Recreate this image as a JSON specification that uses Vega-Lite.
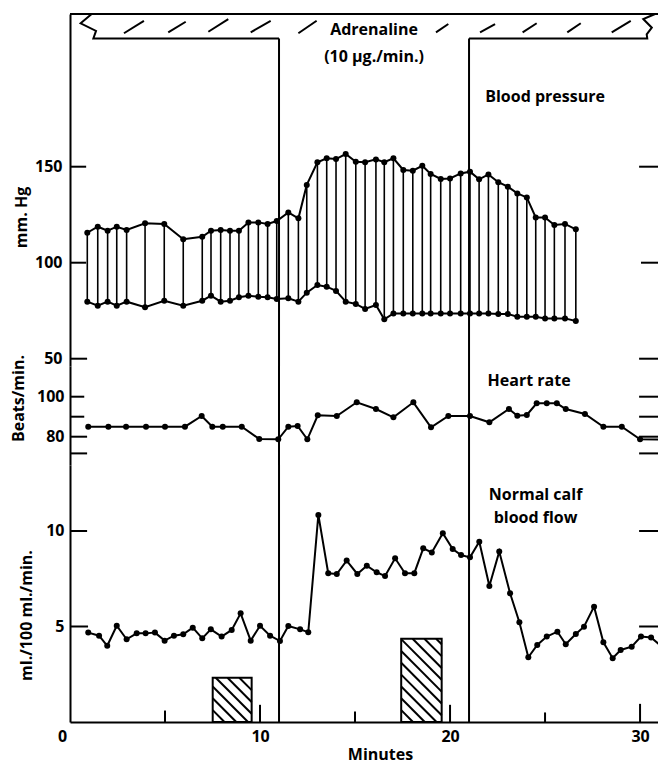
{
  "$schema": "https://vega.github.io/schema/vega-lite/v6.json",
  "padding": {"left": 10, "top": 10, "right": 0, "bottom": 4},
  "background": "white",
  "spacing": 0,
  "bounds": "flush",
  "config": {
    "view": {"stroke": null},
    "font": "Open Sans",
    "axis": {
      "grid": false, "ticks": false, "domainColor": "black", "domainWidth": 2, "labelFlush": false,
      "labelFont": "Open Sans", "labelFontWeight": "bold", "labelFontSize": 16, "labelColor": "black",
      "titleFont": "Open Sans", "titleFontWeight": "bold", "titleFontSize": 16, "titleColor": "black"
    },
    "text": {"font": "Open Sans", "fontWeight": "bold", "fontSize": 16, "color": "black"}
  },
  "vconcat": [
    {
      "width": 590, "height": 352,
      "layer": [
        {
          "data": {"values": [
            {"seg": "top", "o": 0, "t": 0, "v": 229.53},
            {"seg": "top", "o": 1, "t": 31.05, "v": 229.53},
            {"seg": "left", "o": 0, "t": 1.14, "v": 229.53},
            {"seg": "left", "o": 1, "t": 0.56, "v": 224.7},
            {"seg": "left", "o": 2, "t": 1.37, "v": 220.7},
            {"seg": "left", "o": 3, "t": 1.23, "v": 216.77},
            {"seg": "left", "o": 4, "t": 11, "v": 216.77},
            {"seg": "right", "o": 0, "t": 21, "v": 216.77},
            {"seg": "right", "o": 1, "t": 30.38, "v": 216.77},
            {"seg": "right", "o": 2, "t": 30.35, "v": 218.96},
            {"seg": "right", "o": 3, "t": 30.62, "v": 222.4},
            {"seg": "right", "o": 4, "t": 30.17, "v": 226.9},
            {"seg": "right", "o": 5, "t": 30.79, "v": 229.53}
          ]},
          "mark": {"type": "line", "color": "black", "strokeWidth": 2},
          "encoding": {
            "x": {"field": "t", "type": "quantitative", "scale": {"domain": [0, 31.05], "nice": false, "zero": false}, "axis": null},
            "y": {"field": "v", "type": "quantitative", "scale": {"domain": [46.2, 229.53], "nice": false, "zero": false},
              "axis": {"title": "mm. Hg", "values": [50, 100, 150], "labelPadding": 8, "titleAngle": 270, "titleX": -49, "titleY": 203, "titleAlign": "center", "titleBaseline": "middle"}},
            "detail": {"field": "seg"},
            "order": {"field": "o"}
          }
        },
        {
          "data": {"values": [
            {"t": 2.84, "t2": 3.89, "v": 219.5, "v2": 226.0},
            {"t": 5.17, "t2": 6.09, "v": 220.0, "v2": 225.5},
            {"t": 7.28, "t2": 8.33, "v": 220.3, "v2": 226.9},
            {"t": 9.51, "t2": 10.56, "v": 220.0, "v2": 226.0},
            {"t": 12.02, "t2": 12.98, "v": 219.5, "v2": 226.0},
            {"t": 19.26, "t2": 19.91, "v": 220.0, "v2": 224.3},
            {"t": 21.58, "t2": 22.37, "v": 220.0, "v2": 224.3},
            {"t": 23.82, "t2": 24.56, "v": 220.0, "v2": 224.7},
            {"t": 26.17, "t2": 26.88, "v": 220.0, "v2": 224.7},
            {"t": 28.51, "t2": 29.51, "v": 220.0, "v2": 226.0},
            {"t": 11, "t2": 11, "v": 216.77, "v2": 46.2},
            {"t": 21, "t2": 21, "v": 216.77, "v2": 46.2},
            {"t": 0, "t2": 0.85, "v": 150, "v2": 150},
            {"t": 0, "t2": 0.85, "v": 100, "v2": 100},
            {"t": 0, "t2": 0.9, "v": 50, "v2": 50},
            {"t": 29.95, "t2": 31.05, "v": 150, "v2": 150},
            {"t": 30.05, "t2": 31.05, "v": 100, "v2": 100},
            {"t": 29.95, "t2": 31.05, "v": 50, "v2": 50}
          ]},
          "mark": {"type": "rule", "color": "black", "strokeWidth": 2},
          "encoding": {
            "x": {"field": "t", "type": "quantitative"},
            "x2": {"field": "t2"},
            "y": {"field": "v", "type": "quantitative"},
            "y2": {"field": "v2"}
          }
        },
        {
          "data": {"name": "bp", "values": [
            {"t": 0.91, "sys": 115.6, "dia": 79.7},
            {"t": 1.46, "sys": 118.75, "dia": 77.6},
            {"t": 1.98, "sys": 116.7, "dia": 79.7},
            {"t": 2.46, "sys": 118.75, "dia": 77.6},
            {"t": 2.98, "sys": 117.0, "dia": 79.7},
            {"t": 3.95, "sys": 120.5, "dia": 76.8},
            {"t": 4.96, "sys": 120.2, "dia": 80.2},
            {"t": 5.96, "sys": 112.2, "dia": 77.6},
            {"t": 6.96, "sys": 113.5, "dia": 80.2},
            {"t": 7.42, "sys": 116.7, "dia": 82.8},
            {"t": 7.93, "sys": 117.0, "dia": 79.7},
            {"t": 8.42, "sys": 116.7, "dia": 80.2},
            {"t": 8.89, "sys": 116.7, "dia": 82.0},
            {"t": 9.39, "sys": 121.0, "dia": 82.8},
            {"t": 9.91, "sys": 121.0, "dia": 82.3},
            {"t": 10.4, "sys": 120.2, "dia": 82.0},
            {"t": 10.88, "sys": 121.7, "dia": 81.1},
            {"t": 11.49, "sys": 126.2, "dia": 81.5},
            {"t": 12.02, "sys": 123.1, "dia": 79.7},
            {"t": 12.46, "sys": 140.5, "dia": 84.4},
            {"t": 13.02, "sys": 152.3, "dia": 88.4},
            {"t": 13.51, "sys": 154.4, "dia": 87.5},
            {"t": 14.0, "sys": 154.0, "dia": 85.3},
            {"t": 14.51, "sys": 156.6, "dia": 79.7},
            {"t": 15.04, "sys": 152.6, "dia": 78.5},
            {"t": 15.53, "sys": 152.3, "dia": 75.9},
            {"t": 16.1, "sys": 153.8, "dia": 78.0},
            {"t": 16.54, "sys": 152.3, "dia": 70.5},
            {"t": 17.02, "sys": 154.4, "dia": 73.6},
            {"t": 17.54, "sys": 148.3, "dia": 73.6},
            {"t": 18.04, "sys": 147.9, "dia": 73.6},
            {"t": 18.54, "sys": 150.5, "dia": 73.6},
            {"t": 18.98, "sys": 146.2, "dia": 73.6},
            {"t": 19.51, "sys": 143.6, "dia": 73.6},
            {"t": 20.0, "sys": 143.9, "dia": 73.6},
            {"t": 20.56, "sys": 146.5, "dia": 73.6},
            {"t": 21.05, "sys": 147.4, "dia": 73.6},
            {"t": 21.53, "sys": 143.4, "dia": 73.6},
            {"t": 22.02, "sys": 146.0, "dia": 73.6},
            {"t": 22.54, "sys": 141.9, "dia": 73.3},
            {"t": 23.04, "sys": 139.6, "dia": 73.3},
            {"t": 23.54, "sys": 136.1, "dia": 71.9},
            {"t": 24.04, "sys": 134.0, "dia": 71.9},
            {"t": 24.51, "sys": 123.6, "dia": 71.9},
            {"t": 25.0, "sys": 123.6, "dia": 71.0},
            {"t": 25.49, "sys": 119.6, "dia": 71.0},
            {"t": 26.05, "sys": 120.2, "dia": 71.0},
            {"t": 26.62, "sys": 117.4, "dia": 69.6}
          ]},
          "mark": {"type": "rule", "color": "black", "strokeWidth": 1.6},
          "encoding": {
            "x": {"field": "t", "type": "quantitative"},
            "y": {"field": "sys", "type": "quantitative"},
            "y2": {"field": "dia"}
          }
        },
        {
          "data": {"name": "bp"},
          "mark": {"type": "line", "color": "black", "strokeWidth": 2, "point": {"filled": true, "color": "black", "size": 36}},
          "encoding": {
            "x": {"field": "t", "type": "quantitative"},
            "y": {"field": "sys", "type": "quantitative"}
          }
        },
        {
          "data": {"name": "bp"},
          "mark": {"type": "line", "color": "black", "strokeWidth": 2, "point": {"filled": true, "color": "black", "size": 36}},
          "encoding": {
            "x": {"field": "t", "type": "quantitative"},
            "y": {"field": "dia", "type": "quantitative"}
          }
        },
        {
          "data": {"values": [
            {"t": 16.0, "v": 221.2, "label": "Adrenaline"},
            {"t": 16.0, "v": 207.1, "label": "(10 µg./min.)"},
            {"t": 25.0, "v": 186.3, "label": "Blood pressure"}
          ]},
          "mark": {"type": "text", "align": "center", "baseline": "middle"},
          "encoding": {
            "x": {"field": "t", "type": "quantitative"},
            "y": {"field": "v", "type": "quantitative"},
            "text": {"field": "label"}
          }
        }
      ]
    },
    {
      "width": 590, "height": 99,
      "layer": [
        {
          "data": {"values": [
            {"t": 11, "t2": 11, "v": 115.35, "v2": 65.85},
            {"t": 21, "t2": 21, "v": 115.35, "v2": 65.85},
            {"t": 0, "t2": 0.75, "v": 100, "v2": 100},
            {"t": 0, "t2": 0.75, "v": 90, "v2": 90},
            {"t": 0, "t2": 0.9, "v": 80, "v2": 80},
            {"t": 0, "t2": 0.9, "v": 71.65, "v2": 71.65},
            {"t": 29.95, "t2": 31.05, "v": 100, "v2": 100},
            {"t": 29.95, "t2": 31.05, "v": 90, "v2": 90},
            {"t": 29.95, "t2": 31.05, "v": 80, "v2": 80},
            {"t": 29.95, "t2": 31.05, "v": 71.65, "v2": 71.65}
          ]},
          "mark": {"type": "rule", "color": "black", "strokeWidth": 2},
          "encoding": {
            "x": {"field": "t", "type": "quantitative", "scale": {"domain": [0, 31.05], "nice": false, "zero": false}, "axis": null},
            "x2": {"field": "t2"},
            "y": {"field": "v", "type": "quantitative", "scale": {"domain": [65.85, 115.35], "nice": false, "zero": false},
              "axis": {"title": "Beats/min.", "values": [80, 100], "labelPadding": 6, "titleAngle": 270, "titleX": -52, "titleY": 32, "titleAlign": "center", "titleBaseline": "middle"}},
            "y2": {"field": "v2"}
          }
        },
        {
          "data": {"values": [
            {"t": 0.96, "bpm": 85.0}, {"t": 2.02, "bpm": 85.0}, {"t": 2.95, "bpm": 85.0},
            {"t": 4.0, "bpm": 85.0}, {"t": 5.0, "bpm": 85.0}, {"t": 6.05, "bpm": 85.0},
            {"t": 6.93, "bpm": 90.35}, {"t": 7.49, "bpm": 85.0}, {"t": 8.04, "bpm": 85.0},
            {"t": 9.04, "bpm": 85.0}, {"t": 9.96, "bpm": 78.85}, {"t": 10.96, "bpm": 78.7},
            {"t": 11.49, "bpm": 85.0}, {"t": 11.98, "bpm": 85.35}, {"t": 12.49, "bpm": 78.7},
            {"t": 13.04, "bpm": 90.7}, {"t": 14.04, "bpm": 90.35}, {"t": 15.09, "bpm": 97.2},
            {"t": 16.1, "bpm": 93.85}, {"t": 17.02, "bpm": 89.7}, {"t": 18.07, "bpm": 97.2},
            {"t": 19.0, "bpm": 84.7}, {"t": 19.91, "bpm": 90.35}, {"t": 21.05, "bpm": 90.35},
            {"t": 22.07, "bpm": 87.2}, {"t": 23.1, "bpm": 93.85}, {"t": 23.54, "bpm": 90.5},
            {"t": 24.04, "bpm": 90.85}, {"t": 24.56, "bpm": 96.7}, {"t": 25.09, "bpm": 96.7},
            {"t": 25.62, "bpm": 96.7}, {"t": 26.09, "bpm": 93.85}, {"t": 27.1, "bpm": 91.35},
            {"t": 28.07, "bpm": 85.0}, {"t": 29.04, "bpm": 85.0}, {"t": 30.0, "bpm": 78.7},
            {"t": 31.6, "bpm": 78.6}
          ]},
          "mark": {"type": "line", "color": "black", "strokeWidth": 2, "clip": true, "point": {"filled": true, "color": "black", "size": 36, "clip": true}},
          "encoding": {
            "x": {"field": "t", "type": "quantitative"},
            "y": {"field": "bpm", "type": "quantitative"}
          }
        },
        {
          "data": {"values": [{"t": 24.16, "v": 107.85, "label": "Heart rate"}]},
          "mark": {"type": "text", "align": "center", "baseline": "middle"},
          "encoding": {
            "x": {"field": "t", "type": "quantitative"},
            "y": {"field": "v", "type": "quantitative"},
            "text": {"field": "label"}
          }
        }
      ]
    },
    {
      "width": 590, "height": 257,
      "layer": [
        {
          "data": {"values": [
            {"t": 7.51, "t2": 9.56, "v": 0, "v2": 2.32},
            {"t": 17.43, "t2": 19.56, "v": 0, "v2": 4.36}
          ]},
          "mark": {"type": "rect", "fill": "white", "stroke": "black", "strokeWidth": 2},
          "encoding": {
            "x": {"field": "t", "type": "quantitative", "scale": {"domain": [0, 31.05], "nice": false, "zero": false},
              "axis": {"title": "Minutes", "values": [0, 10, 20, 30], "labelPadding": 6, "titleX": 310, "titleY": 32, "titleBaseline": "middle",
                "labelOffset": {"condition": {"test": "datum.value === 0", "value": -8}, "value": 0}}},
            "x2": {"field": "t2"},
            "y": {"field": "v", "type": "quantitative", "scale": {"domain": [0, 13.455], "nice": false, "zero": false},
              "axis": {"title": "ml./100 ml./min.", "values": [5, 10], "labelPadding": 6, "titleAngle": 270, "titleX": -44, "titleY": 150, "titleAlign": "center", "titleBaseline": "middle"}},
            "y2": {"field": "v2"}
          }
        },
        {
          "data": {"values": [
            {"t": 11, "t2": 11, "v": 13.455, "v2": 0},
            {"t": 21, "t2": 21, "v": 13.455, "v2": 0},
            {"t": 0, "t2": 0.9, "v": 10, "v2": 10},
            {"t": 0, "t2": 0.95, "v": 5, "v2": 5},
            {"t": 29.95, "t2": 31.05, "v": 10, "v2": 10},
            {"t": 29.95, "t2": 31.05, "v": 5, "v2": 5},
            {"t": 5, "t2": 5, "v": 0, "v2": 0.6},
            {"t": 10, "t2": 10, "v": 0, "v2": 0.9},
            {"t": 15, "t2": 15, "v": 0, "v2": 0.55},
            {"t": 20, "t2": 20, "v": 0, "v2": 0.9},
            {"t": 25, "t2": 25, "v": 0, "v2": 0.5},
            {"t": 30, "t2": 30, "v": 0, "v2": 0.95},
            {"t": 7.51, "t2": 8.13, "v": 0.62, "v2": 0},
            {"t": 7.51, "t2": 8.75, "v": 1.24, "v2": 0},
            {"t": 7.51, "t2": 9.37, "v": 1.86, "v2": 0},
            {"t": 7.67, "t2": 9.56, "v": 2.32, "v2": 0.43},
            {"t": 8.29, "t2": 9.56, "v": 2.32, "v2": 1.05},
            {"t": 8.91, "t2": 9.56, "v": 2.32, "v2": 1.67},
            {"t": 17.43, "t2": 18.05, "v": 0.62, "v2": 0},
            {"t": 17.43, "t2": 18.67, "v": 1.24, "v2": 0},
            {"t": 17.43, "t2": 19.29, "v": 1.86, "v2": 0},
            {"t": 17.43, "t2": 19.56, "v": 2.48, "v2": 0.35},
            {"t": 17.43, "t2": 19.56, "v": 3.10, "v2": 0.97},
            {"t": 17.43, "t2": 19.56, "v": 3.72, "v2": 1.59},
            {"t": 17.43, "t2": 19.56, "v": 4.34, "v2": 2.21},
            {"t": 18.03, "t2": 19.56, "v": 4.36, "v2": 2.83},
            {"t": 18.65, "t2": 19.56, "v": 4.36, "v2": 3.45},
            {"t": 19.27, "t2": 19.56, "v": 4.36, "v2": 4.07}
          ]},
          "mark": {"type": "rule", "color": "black", "strokeWidth": 2},
          "encoding": {
            "x": {"field": "t", "type": "quantitative"},
            "x2": {"field": "t2"},
            "y": {"field": "v", "type": "quantitative"},
            "y2": {"field": "v2"}
          }
        },
        {
          "data": {"values": [
            {"t": 0.96, "f": 4.68}, {"t": 1.53, "f": 4.52}, {"t": 1.96, "f": 3.99}, {"t": 2.46, "f": 5.04},
            {"t": 2.98, "f": 4.33}, {"t": 3.51, "f": 4.64}, {"t": 3.98, "f": 4.64}, {"t": 4.47, "f": 4.68},
            {"t": 4.98, "f": 4.26}, {"t": 5.47, "f": 4.52}, {"t": 5.96, "f": 4.59}, {"t": 6.46, "f": 4.94},
            {"t": 6.96, "f": 4.38}, {"t": 7.41, "f": 4.85}, {"t": 7.98, "f": 4.47}, {"t": 8.51, "f": 4.82},
            {"t": 8.98, "f": 5.69}, {"t": 9.51, "f": 4.26}, {"t": 10.0, "f": 5.04}, {"t": 10.53, "f": 4.52},
            {"t": 11.05, "f": 4.24}, {"t": 11.49, "f": 5.03}, {"t": 12.11, "f": 4.85}, {"t": 12.54, "f": 4.70},
            {"t": 13.07, "f": 10.84}, {"t": 13.59, "f": 7.79}, {"t": 14.04, "f": 7.75}, {"t": 14.56, "f": 8.45},
            {"t": 15.12, "f": 7.75}, {"t": 15.62, "f": 8.18}, {"t": 16.14, "f": 7.84}, {"t": 16.58, "f": 7.64},
            {"t": 17.11, "f": 8.57}, {"t": 17.63, "f": 7.79}, {"t": 18.12, "f": 7.79}, {"t": 18.59, "f": 9.09},
            {"t": 19.04, "f": 8.88}, {"t": 19.62, "f": 9.88}, {"t": 20.14, "f": 9.06}, {"t": 20.58, "f": 8.74},
            {"t": 21.05, "f": 8.62}, {"t": 21.54, "f": 9.44}, {"t": 22.07, "f": 7.12}, {"t": 22.59, "f": 8.92},
            {"t": 23.16, "f": 6.74}, {"t": 23.65, "f": 5.22}, {"t": 24.12, "f": 3.39}, {"t": 24.59, "f": 4.03},
            {"t": 25.09, "f": 4.47}, {"t": 25.65, "f": 4.73}, {"t": 26.09, "f": 4.07}, {"t": 26.62, "f": 4.61},
            {"t": 27.05, "f": 4.99}, {"t": 27.58, "f": 6.04}, {"t": 28.07, "f": 4.17}, {"t": 28.56, "f": 3.34},
            {"t": 28.98, "f": 3.77}, {"t": 29.56, "f": 3.94}, {"t": 30.05, "f": 4.47}, {"t": 30.58, "f": 4.43},
            {"t": 31.4, "f": 3.73}
          ]},
          "mark": {"type": "line", "color": "black", "strokeWidth": 2, "clip": true, "point": {"filled": true, "color": "black", "size": 36, "clip": true}},
          "encoding": {
            "x": {"field": "t", "type": "quantitative"},
            "y": {"field": "f", "type": "quantitative"}
          }
        },
        {
          "data": {"values": [
            {"t": 24.5, "v": 11.88, "label": "Normal calf"},
            {"t": 24.5, "v": 10.68, "label": "blood flow"}
          ]},
          "mark": {"type": "text", "align": "center", "baseline": "middle"},
          "encoding": {
            "x": {"field": "t", "type": "quantitative"},
            "y": {"field": "v", "type": "quantitative"},
            "text": {"field": "label"}
          }
        }
      ]
    }
  ]
}
